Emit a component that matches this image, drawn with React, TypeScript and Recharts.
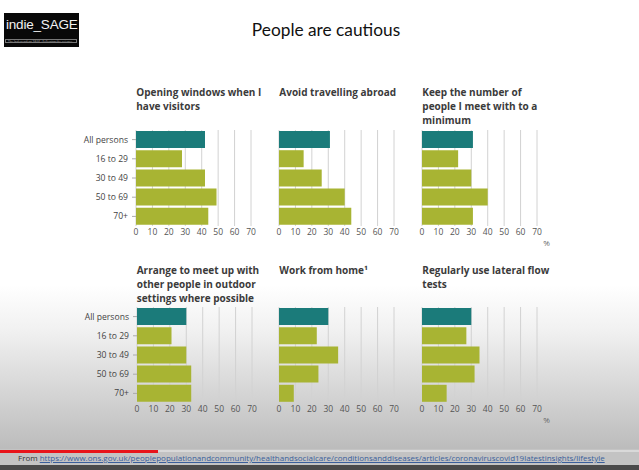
import React from 'react';
import { BarChart, Bar, XAxis, YAxis, CartesianGrid, Cell } from 'recharts';

const categories = ['All persons', '16 to 29', '30 to 49', '50 to 69', '70+'];
const windowsVals = [42, 28, 42, 49, 44];
const abroadVals = [31, 15, 26, 40, 44];
const minimumVals = [31, 22, 30, 40, 31];
const outdoorVals = [30, 21, 30, 33, 33];
const wfhVals = [30, 23, 36, 24, 9];
const lftVals = [30, 27, 35, 32, 15];
const xTicks = [0, 10, 20, 30, 40, 50, 60, 70];

const titleWindows = ['Opening windows when I', 'have visitors'];
const titleAbroad = ['Avoid travelling abroad'];
const titleMinimum = ['Keep the number of', 'people I meet with to a', 'minimum'];
const titleOutdoor = ['Arrange to meet up with', 'other people in outdoor', 'settings where possible'];
const titleWfh = ['Work from home\u00b9'];
const titleLft = ['Regularly use lateral flow', 'tests'];

const TEAL = '#1b7b7a';
const OLIVE = '#a8b433';
const FONT = '"Open Sans", "DejaVu Sans", sans-serif';

const makeRows = (vals: number[]) => categories.map((c, i) => ({ cat: c, v: vals[i] }));

const PLOT_W = 115;
const PLOT_H = 96;
const X_AX_H = 20;
const Y_AX_W = 62;

const CatTick = (props: any) => {
  const { x, y, payload } = props;
  return (
    <text x={x} y={y} dy="0.35em" textAnchor="end" fontSize={8.6} fill="#444" fontFamily={FONT}>
      {payload.value}
    </text>
  );
};

type PanelProps = {
  vals: number[];
  title: string[];
  plotLeft: number;
  plotTop: number;
  showY: boolean;
  pct?: boolean;
};

function Panel({ vals, title, plotLeft, plotTop, showY, pct }: PanelProps) {
  const mLeft = 4;
  const mRight = 10;
  const yw = showY ? Y_AX_W : 0;
  const chartLeft = plotLeft - mLeft - yw;
  const width = mLeft + yw + PLOT_W + mRight;
  const height = PLOT_H + X_AX_H;
  const titleTop = plotTop - 43.3;
  return (
    <>
      <div
        style={{
          position: 'absolute',
          left: plotLeft,
          top: titleTop,
          fontFamily: FONT,
          fontWeight: 700,
          fontSize: 10,
          lineHeight: '13.7px',
          color: '#3b3b3b',
          whiteSpace: 'nowrap',
        }}
      >
        {title.map((t, i) => (
          <div key={i}>{t}</div>
        ))}
      </div>
      <div style={{ position: 'absolute', left: chartLeft, top: plotTop }}>
        <BarChart
          width={width}
          height={height}
          data={makeRows(vals)}
          layout="vertical"
          margin={{ top: 0, right: mRight, bottom: 0, left: mLeft }}
          barCategoryGap={1}
        >
          <CartesianGrid horizontal={false} vertical={true} stroke="#d2d2d2" strokeWidth={1} />
          <XAxis
            type="number"
            domain={[0, 70]}
            ticks={xTicks}
            interval={0}
            height={X_AX_H}
            axisLine={false}
            tickLine={false}
            tickSize={0}
            tickMargin={3}
            tick={{ fontSize: 8.5, fill: '#555', fontFamily: FONT }}
          />
          <YAxis
            type="category"
            dataKey="cat"
            hide={!showY}
            width={Y_AX_W}
            axisLine={false}
            tickLine={{ stroke: '#aaa' }}
            tickSize={4}
            tickMargin={4}
            interval={0}
            tick={<CatTick />}
          />
          <Bar dataKey="v" isAnimationActive={false}>
            {vals.map((_, i) => (
              <Cell key={i} fill={i === 0 ? TEAL : OLIVE} />
            ))}
          </Bar>
        </BarChart>
      </div>
      {pct && (
        <div
          style={{
            position: 'absolute',
            left: plotLeft + 121,
            top: plotTop + PLOT_H + 11,
            fontFamily: FONT,
            fontSize: 8,
            color: '#666',
          }}
        >
          %
        </div>
      )}
    </>
  );
}

export default function App() {
  const url =
    'https://www.ons.gov.uk/peoplepopulationandcommunity/healthandsocialcare/conditionsanddiseases/articles/coronaviruscovid19latestinsights/lifestyle';
  return (
    <div
      style={{
        position: 'absolute',
        left: 0,
        top: 0,
        width: 639,
        height: 470,
        overflow: 'hidden',
        background: 'linear-gradient(to bottom, #ffffff 0px, #ffffff 285px, #f1f1f1 330px, #bcbcbc 448px)',
      }}
    >
      {/* logo */}
      <div
        style={{
          position: 'absolute',
          left: 4,
          top: 13,
          width: 75,
          height: 34,
          background: '#080808',
        }}
      >
        <div
          style={{
            position: 'absolute',
            left: 2,
            top: 4,
            fontFamily: '"Liberation Sans", Arial, sans-serif',
            fontSize: 13.5,
            color: '#f2f2f2',
            letterSpacing: -0.2,
            whiteSpace: 'nowrap',
          }}
        >
          indie_SAGE
        </div>
        <div
          style={{
            position: 'absolute',
            left: 1,
            top: 26,
            width: 72,
            height: 4,
            border: '0.5px solid #777',
            fontFamily: FONT,
            fontSize: 3,
            lineHeight: '4px',
            color: '#aaa',
            whiteSpace: 'nowrap',
            overflow: 'hidden',
            paddingLeft: 2,
            boxSizing: 'border-box',
          }}
        >
          The Independent SAGE · Following the science
        </div>
      </div>

      {/* main title */}
      <div
        style={{
          position: 'absolute',
          left: 0,
          width: 652,
          top: 19,
          textAlign: 'center',
          fontFamily: 'Lato, "Open Sans", sans-serif',
          fontSize: 17.3,
          color: '#111',
        }}
      >
        People are cautious
      </div>

      <Panel vals={windowsVals} title={titleWindows} plotLeft={136.3} plotTop={129.6} showY />
      <Panel vals={abroadVals} title={titleAbroad} plotLeft={279.3} plotTop={129.6} showY={false} />
      <Panel vals={minimumVals} title={titleMinimum} plotLeft={422.3} plotTop={129.6} showY={false} pct />
      <Panel vals={outdoorVals} title={titleOutdoor} plotLeft={136.7} plotTop={307.4} showY />
      <Panel vals={wfhVals} title={titleWfh} plotLeft={279.3} plotTop={307.4} showY={false} />
      <Panel vals={lftVals} title={titleLft} plotLeft={422.3} plotTop={307.4} showY={false} pct />

      {/* bottom source strip */}
      <div style={{ position: 'absolute', left: 0, top: 449, width: 639, height: 16, background: '#c3c3c3' }} />
      <div style={{ position: 'absolute', left: 0, top: 450, width: 639, height: 2, background: '#d9d9d9' }} />
      <div style={{ position: 'absolute', left: 0, top: 450, width: 158, height: 3, background: '#e8141a' }} />
      <div
        style={{
          position: 'absolute',
          left: 18,
          top: 453,
          fontFamily: FONT,
          fontSize: 8,
          lineHeight: '10px',
          color: '#333',
          whiteSpace: 'nowrap',
        }}
      >
        From <span style={{ color: '#3a5f9c', textDecoration: 'underline' }}>{url}</span>
      </div>
      <div style={{ position: 'absolute', left: 0, top: 465, width: 639, height: 5, background: '#4a4a4a' }} />
    </div>
  );
}
